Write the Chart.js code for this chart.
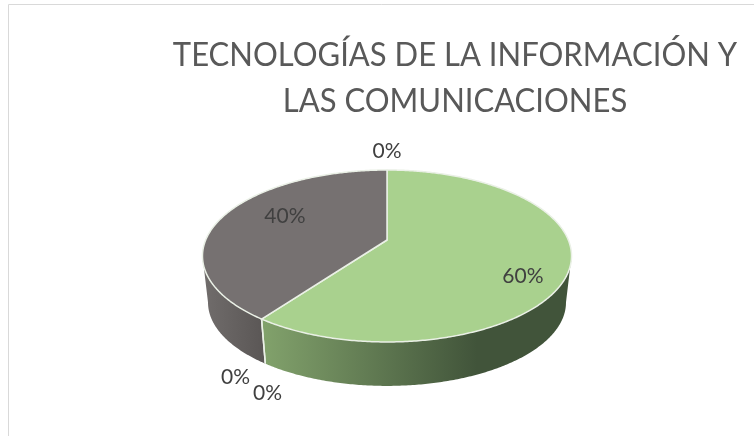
<!DOCTYPE html>
<html>
<head>
<meta charset="utf-8">
<script src="https://cdn.jsdelivr.net/npm/chart.js@4"></script>
<style>html,body{margin:0;padding:0;background:#fff}canvas{display:block}</style>
</head>
<body>
<canvas id="c" width="754" height="436"></canvas>
<script>
const titleLines = ["TECNOLOGÍAS DE LA INFORMACIÓN Y", "LAS COMUNICACIONES"];
const categories = ["Categoría 1", "Categoría 2", "Categoría 3", "Categoría 4", "Categoría 5"];
const percentValues = [60, 0, 0, 40, 0];
const topColors = ["#A9D18E", "#A9D18E", "#A9D18E", "#767171", "#767171"];
const wallStops = [["#81A16B", "#41543A"], ["#81A16B", "#41543A"], ["#81A16B", "#41543A"], ["#706C6B", "#5A5655"], ["#706C6B", "#5A5655"]];

const pie3d = {
  id: "pie3d",
  beforeDraw(chart, args, o) {
    // narrow the title glyphs a little and move the title to its place
    const ctx = chart.ctx;
    ctx.save();
    ctx.translate(o.titleCx, 0);
    ctx.scale(o.titleStretch, 1);
    ctx.translate(-chart.width / 2, 0);
  },
  beforeDatasetsDraw(chart, args, o) {
    const ctx = chart.ctx;
    ctx.restore();
    const arcs = chart.getDatasetMeta(0).data;
    const project = (theta, r, s, dy) => {
      const u = r * Math.sin(theta), v = -r * Math.cos(theta);
      const d = 1 + o.k * v;
      return [o.cx + s * o.a * u / d, o.cy + dy + s * o.b * v / d];
    };
    const angles = arcs.map(a => [a.startAngle + Math.PI / 2, a.endAngle + Math.PI / 2]);
    const rim = (t0, t1, s, dy) => {
      const n = Math.max(2, Math.ceil((t1 - t0) / 0.01));
      const pts = [];
      for (let i = 0; i <= n; i++) pts.push(project(t0 + (t1 - t0) * i / n, 1, s, dy));
      return pts;
    };
    ctx.save();
    ctx.strokeStyle = o.frame; ctx.lineWidth = 1;
    ctx.beginPath(); ctx.moveTo(8.5, 436); ctx.lineTo(8.5, 4.5); ctx.lineTo(754, 4.5); ctx.stroke();

    // walls: only the front part, between the two left/right extremes of the rim
    const frontFrom = Math.acos(o.k), frontTo = 2 * Math.PI - frontFrom;
    arcs.forEach((a, i) => {
      const lo = Math.max(angles[i][0], frontFrom), hi = Math.min(angles[i][1], frontTo);
      if (hi - lo < 1e-6) return;
      const upper = rim(lo, hi, 1, 0), lower = rim(lo, hi, o.wallScale, o.wallDepth).reverse();
      const g = angles[i][0] < Math.PI
        ? ctx.createLinearGradient(o.cx - 122, 0, o.cx + 90, 0)
        : ctx.createLinearGradient(o.cx - 182, 0, o.cx - 122, 0);
      g.addColorStop(0, wallStops[i][0]); g.addColorStop(1, wallStops[i][1]);
      ctx.fillStyle = g;
      ctx.beginPath();
      upper.concat(lower).forEach((p, j) => j ? ctx.lineTo(p[0], p[1]) : ctx.moveTo(p[0], p[1]));
      ctx.closePath(); ctx.fill();
    });
    // white seam on the front wall
    arcs.forEach((a, i) => {
      const [t0, t1] = angles[i];
      if (t1 - t0 < 1e-6) return;
      [t0, t1].forEach(t => {
        if (-Math.cos(t) < 0.2) return;
        const p = project(t, 1, 1, 0), q = project(t, 1, o.wallScale, o.wallDepth);
        ctx.strokeStyle = o.seam; ctx.lineWidth = 1.5;
        ctx.beginPath(); ctx.moveTo(p[0], p[1]); ctx.lineTo(q[0], q[1]); ctx.stroke();
      });
    });
    // top faces
    arcs.forEach((a, i) => {
      const [t0, t1] = angles[i];
      if (t1 - t0 < 1e-6) return;
      const pts = rim(t0, t1, 1, 0);
      ctx.beginPath(); ctx.moveTo(o.cx, o.cy);
      pts.forEach(p => ctx.lineTo(p[0], p[1]));
      ctx.closePath();
      ctx.fillStyle = a.options.backgroundColor; ctx.fill();
      ctx.strokeStyle = o.seam; ctx.lineWidth = 1.5; ctx.lineJoin = "round"; ctx.stroke();
    });
    // labels
    const total = percentValues.reduce((s, v) => s + v, 0);
    ctx.font = o.labelFont; ctx.fillStyle = o.labelColor;
    ctx.textAlign = "center"; ctx.textBaseline = "middle";
    arcs.forEach((a, i) => {
      const [t0, t1] = angles[i];
      const p = project((t0 + t1) / 2, 1, 1, 0);
      const off = o.labelOffsets[i];
      ctx.fillText(Math.round(percentValues[i] / total * 100) + "%", p[0] + off[0], p[1] + off[1]);
    });
    ctx.restore();
    return false;
  },
  beforeDatasetDraw() { return false; }
};

new Chart(document.getElementById("c"), {
  type: "pie",
  data: {
    labels: categories,
    datasets: [{ data: percentValues, backgroundColor: topColors, borderWidth: 0 }]
  },
  plugins: [pie3d],
  options: {
    responsive: false,
    animation: false,
    layout: { padding: { top: 32 } },
    plugins: {
      legend: { display: false },
      tooltip: { enabled: false },
      title: {
        display: true,
        text: titleLines,
        color: "#595959",
        font: { family: "Lato", size: 32, weight: "normal", lineHeight: 1.45 },
        padding: 0
      },
      pie3d: {
        cx: 387, cy: 240, a: 181.3, b: 83, k: -0.186,
        wallScale: 0.97, wallDepth: 47,
        titleCx: 455, titleStretch: 0.969,
        seam: "#EAF0E6", frame: "#D9D9D9",
        labelFont: "21px Lato", labelColor: "#404040",
        labelOffsets: [[-47, 9], [-26, 58], [6, 74], [61, 0], [0, -19]]
      }
    }
  }
});
</script>
</body>
</html>
